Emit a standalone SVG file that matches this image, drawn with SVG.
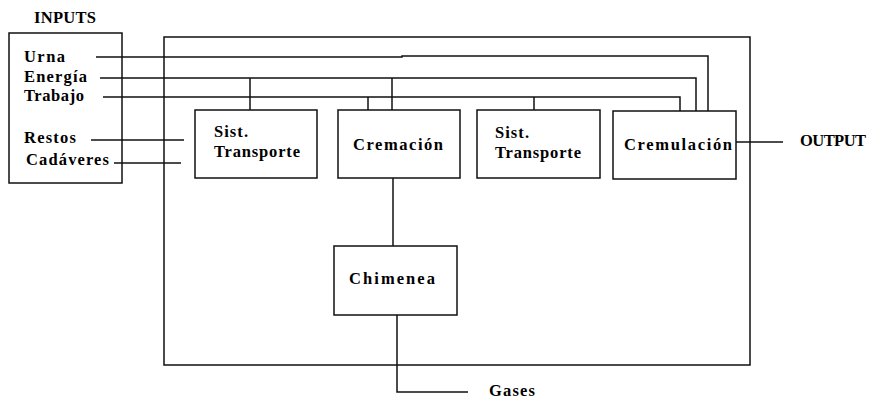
<svg xmlns="http://www.w3.org/2000/svg" width="869" height="399" viewBox="0 0 869 399">
<style>
.box{fill:none;stroke:#111;stroke-width:1.5}
.ln{fill:none;stroke:#111;stroke-width:1.5}
text{font-family:"Liberation Serif","Times New Roman",serif;font-weight:bold;font-size:16.5px;fill:#000}
</style>
<rect width="869" height="399" fill="#fff"/>
<g id="inputs">
<text x="34" y="23" textLength="62" lengthAdjust="spacing">INPUTS</text>
<rect class="box" x="9" y="33" width="113" height="150"/>
<text x="24" y="62" textLength="41" lengthAdjust="spacing">Urna</text>
<text x="24" y="82" textLength="63" lengthAdjust="spacing">Energía</text>
<text x="24" y="101" textLength="60" lengthAdjust="spacing">Trabajo</text>
<text x="24" y="143" textLength="52" lengthAdjust="spacing">Restos</text>
<text x="26" y="165" textLength="83" lengthAdjust="spacing">Cadáveres</text>
</g>
<g id="system">
<rect class="box" x="164" y="37" width="586" height="328"/>
</g>
<g id="sist-transporte-1">
<rect class="box" x="195" y="110" width="122" height="68"/>
<text x="214" y="137" textLength="34" lengthAdjust="spacing">Sist.</text>
<text x="214" y="157" textLength="86" lengthAdjust="spacing">Transporte</text>
</g>
<g id="cremacion">
<rect class="box" x="338" y="110" width="122" height="68"/>
<text x="353" y="150" textLength="90" lengthAdjust="spacing">Cremación</text>
</g>
<g id="sist-transporte-2">
<rect class="box" x="477" y="110" width="123" height="68"/>
<text x="495" y="138" textLength="34" lengthAdjust="spacing">Sist.</text>
<text x="495" y="158" textLength="86" lengthAdjust="spacing">Transporte</text>
</g>
<g id="cremulacion">
<rect class="box" x="613" y="111" width="123" height="68"/>
<text x="624" y="150" textLength="108" lengthAdjust="spacing">Cremulación</text>
</g>
<g id="output">
<text x="800" y="146" textLength="66" lengthAdjust="spacing">OUTPUT</text>
</g>
<g id="chimenea">
<rect class="box" x="334" y="246" width="123" height="69"/>
<text x="349" y="284" textLength="86" lengthAdjust="spacing">Chimenea</text>
</g>
<g id="gases">
<text x="489" y="396" textLength="46" lengthAdjust="spacing">Gases</text>
</g>
<g id="connectors">
<path class="ln" d="M96 57H402V56H708V111"/>
<path class="ln" d="M100 78H696V111"/>
<path class="ln" d="M250 78V110"/>
<path class="ln" d="M392 78V110"/>
<path class="ln" d="M103 97H680V111"/>
<path class="ln" d="M368 97V110"/>
<path class="ln" d="M534 97V110"/>
<path class="ln" d="M91 140H184"/>
<path class="ln" d="M114 163H181"/>
<path class="ln" d="M393 178V246"/>
<path class="ln" d="M397 315V392H468"/>
<path class="ln" d="M736 142H783"/>
</g>
</svg>
